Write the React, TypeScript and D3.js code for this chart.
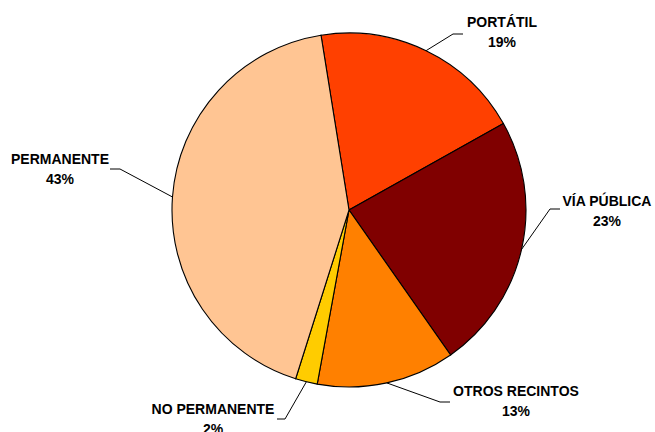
import * as d3 from 'd3';
import { useMemo } from 'react';

// chart data
const categories = ['PORTÁTIL', 'VÍA PÚBLICA', 'OTROS RECINTOS', 'NO PERMANENTE', 'PERMANENTE'];
const values = [19.4, 23.4, 12.6, 2.0, 42.6];
const colors = ['#FF4000', '#800000', '#FF8000', '#FFCC00', '#FFC593'];

// label layout: elbow of the leader line, end of its short tail, text centre and first baseline
const labelLayout = [
  { elbow: [453, 34], tail: 463, tx: 502, ty: 27 },
  { elbow: [550, 209], tail: 560, tx: 607, ty: 206 },
  { elbow: [440, 402], tail: 450, tx: 516, ty: 396 },
  { elbow: [285, 419], tail: 277, tx: 213, ty: 414 },
  { elbow: [120, 169], tail: 110, tx: 60, ty: 164 },
];

const width = 655;
const height = 432;
const cx = 349;
const cy = 210;
const radius = 177;
const startDeg = -9.1;

export default function App() {
  const slices = useMemo(() => {
    const start = (startDeg * Math.PI) / 180;
    const pie = d3
      .pie<number>()
      .sort(null)
      .value((d) => d)
      .startAngle(start)
      .endAngle(start + Math.PI * 2);
    return pie(values);
  }, []);

  const arcGen = d3.arc<d3.PieArcDatum<number>>().innerRadius(0).outerRadius(radius);
  const total = d3.sum(values);

  return (
    <svg
      width={width}
      height={height}
      style={{ position: 'absolute', left: 0, top: 0, background: '#fff' }}
      fontFamily="'Liberation Sans', Arial, sans-serif"
    >
      <g transform={`translate(${cx}, ${cy})`}>
        {slices.map((s, i) => (
          <path key={i} d={arcGen(s) || ''} fill={colors[i]} stroke="#000" strokeWidth={1.1} />
        ))}
      </g>
      {slices.map((s, i) => {
        const mid = (s.startAngle + s.endAngle) / 2;
        const px = cx + radius * Math.sin(mid);
        const py = cy - radius * Math.cos(mid);
        const l = labelLayout[i];
        return (
          <g key={i}>
            <polyline
              points={`${px},${py} ${l.elbow[0]},${l.elbow[1]} ${l.tail},${l.elbow[1]}`}
              fill="none"
              stroke="#000"
              strokeWidth={1}
            />
            <text x={l.tx} y={l.ty} textAnchor="middle" fontSize={14} fontWeight="bold" fill="#000">
              {categories[i]}
            </text>
            <text
              x={l.tx}
              y={l.ty + 19.5}
              textAnchor="middle"
              fontSize={14}
              fontWeight="bold"
              fill="#000"
            >
              {Math.round((values[i] / total) * 100)}%
            </text>
          </g>
        );
      })}
    </svg>
  );
}
